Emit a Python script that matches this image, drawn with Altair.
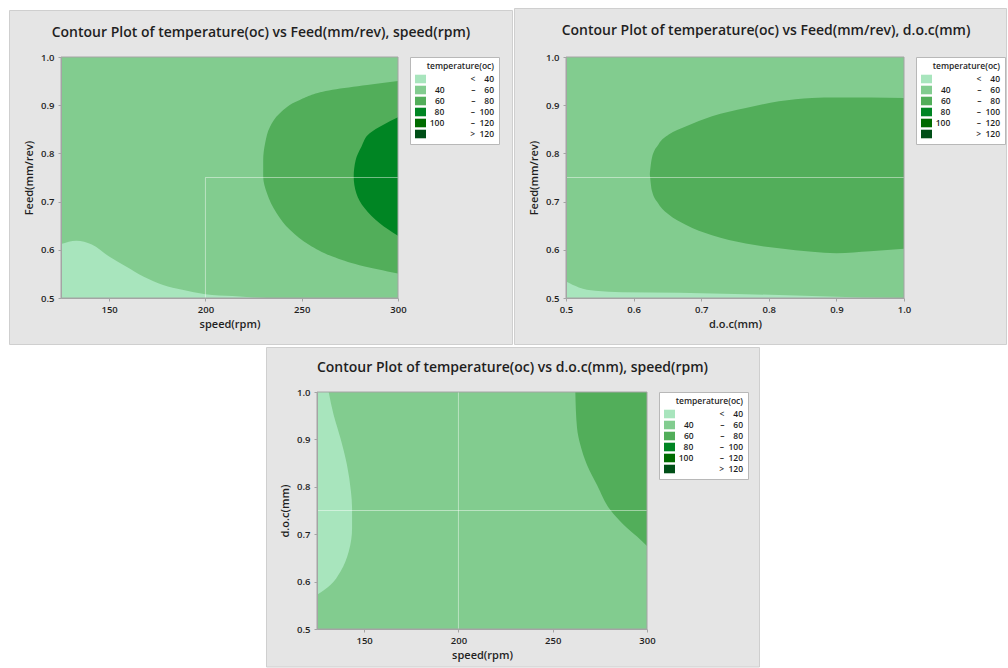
import altair as alt
import pandas as pd

FONT = "Open Sans"
INK = "#1f1f1f"
NB = "\u00a0"

# temperature(oc) classes
BAND_LO = ["", "40", "60", "80", "100", ""]
BAND_SIGN = ["<", "\u2013", "\u2013", "\u2013", "\u2013", ">"]
BAND_HI = ["40", "60", "80", "100", "120", "120"]
BAND_COLORS = ["#a8e5bd", "#82cc8f", "#52ae5a", "#008523", "#006b00", "#004f17"]


def band_label(lo, sign, hi):
    return lo + NB * 12 + sign + NB * (4 if len(hi) < 3 else 2) + hi


BANDS = [band_label(a, b, c) for a, b, c in zip(BAND_LO, BAND_SIGN, BAND_HI)]

FEED_DOMAIN = [0.5, 1.0]
FEED_TICKS = [0.5, 0.6, 0.7, 0.8, 0.9, 1.0]
SPEED_DOMAIN = [125, 300]
SPEED_TICKS = [150, 200, 250, 300]
DOC_DOMAIN = [0.5, 1.0]
DOC_TICKS = [0.5, 0.6, 0.7, 0.8, 0.9, 1.0]

# --- Feed vs speed ---
P1_LOW_X = [125, 133, 141, 150, 159, 168, 178, 188, 200, 214, 225, 232]
P1_LOW_Y = [0.612, 0.619, 0.611, 0.586, 0.565, 0.544, 0.527, 0.517, 0.508, 0.504, 0.501, 0.500]
P1_MID_Y = [0.551, 0.568, 0.586, 0.610, 0.641, 0.676, 0.717, 0.752, 0.786, 0.821, 0.855, 0.883, 0.911, 0.932, 0.942, 0.950]
P1_MID_X = [300, 280, 266, 254, 244, 237, 232, 230, 230, 231, 233.5, 238.5, 249, 266, 284, 300]
P1_HIGH_Y = [0.629, 0.655, 0.686, 0.717, 0.752, 0.786, 0.814, 0.842, 0.859, 0.875]
P1_HIGH_X = [300, 290.5, 282.7, 278.4, 277, 278, 281, 285.3, 292.2, 300]
P1_REF = {"x": [200, 200], "x2": [200, 300], "y": [0.5, 0.75], "y2": [0.75, 0.75]}

# --- Feed vs d.o.c ---
P2_LOW_X = [0.5, 0.519, 0.543, 0.583, 0.667, 0.766, 0.864, 0.938, 1.0]
P2_LOW_Y = [0.534, 0.522, 0.515, 0.512, 0.511, 0.508, 0.504, 0.501, 0.500]
P2_MID_X = [0.624, 0.627, 0.637, 0.652, 0.677, 0.716, 0.766, 0.815, 0.864, 0.9, 0.95, 1.0]
P2_MID_TOP = [0.757, 0.790, 0.819, 0.839, 0.856, 0.877, 0.894, 0.908, 0.915, 0.916, 0.916, 0.915]
P2_MID_BOT = [0.757, 0.723, 0.695, 0.673, 0.652, 0.630, 0.613, 0.603, 0.596, 0.593, 0.597, 0.602]
P2_REF = {"x": [0.5], "x2": [1.0], "y": [0.75], "y2": [0.75]}

# --- d.o.c vs speed ---
P3_LOW_Y = [0.572, 0.593, 0.621, 0.663, 0.713, 0.755, 0.790, 0.846, 0.903, 0.952, 1.0]
P3_LOW_X = [125, 132.1, 137.4, 141.8, 143.6, 143.6, 143, 140.9, 137.4, 133.8, 131.2]
P3_MID_Y = [0.675, 0.695, 0.720, 0.751, 0.804, 0.846, 0.889, 0.924, 1.0]
P3_MID_X = [300, 294.7, 287.6, 280.6, 273.5, 268.2, 264.6, 262.9, 262]
P3_REF = {"x": [200, 125], "x2": [200, 300], "y": [0.5, 0.75], "y2": [1.0, 0.75]}

ONE = pd.DataFrame({"k": [0]})

LEGEND = alt.Legend(
    title="temperature(oc)", orient="right", offset=12, padding=5,
    fillColor="white", strokeColor="#b8b8b8", cornerRadius=0,
    titleFont=FONT, titleFontSize=8.5, titleFontWeight=600, titleColor=INK,
    titleAnchor="end", titlePadding=3,
    labelFont=FONT, labelFontSize=8.5, labelFontWeight=600, labelColor=INK,
    labelAlign="right", labelOffset=68,
    symbolType="M-1,-0.78H1V0.78H-1Z", symbolSize=121,
    symbolStrokeWidth=0, symbolOpacity=1, rowPadding=1,
)


def pixel_rect(x0, x1, y0, y1, **mark):
    return alt.Chart(ONE).mark_rect(**mark).encode(
        x=alt.value(x0), x2=alt.value(x1), y=alt.value(y0), y2=alt.value(y1)
    )


def panel(title, xt, yt, xdom, xticks, xfmt, w, h, extent, box, title_pos,
          areas, ref):
    sx = alt.Scale(domain=xdom, nice=False, zero=False)
    sy = alt.Scale(domain=FEED_DOMAIN, nice=False, zero=False)
    axis_style = dict(
        zindex=1, grid=False, domainColor="#a4a4a4", tickColor="#a4a4a4",
        tickSize=3, labelFont=FONT, labelFontSize=9.5, labelFontWeight=600,
        labelColor=INK, labelFlush=False, labelOverlap=False,
        titleFont=FONT, titleFontSize=11, titleFontWeight=600, titleColor=INK,
    )
    ax = alt.Axis(values=xticks, format=xfmt, title=xt, labelPadding=3,
                  titlePadding=5, **axis_style)
    ay = alt.Axis(values=FEED_TICKS, format=".1f", title=yt, labelPadding=4,
                  titlePadding=6, **axis_style)

    def X(f):
        return alt.X(f, type="quantitative", scale=sx, axis=ax)

    def Y(f):
        return alt.Y(f, type="quantitative", scale=sy, axis=ay)

    color = alt.Color("band:N", scale=alt.Scale(domain=BANDS, range=BAND_COLORS),
                      legend=LEGEND)

    layers = [
        pixel_rect(*extent, fill="white"),
        pixel_rect(*box, fill="#e5e5e5", stroke="#cfcfcf", strokeWidth=1),
    ]
    bg = pd.DataFrame({"x0": [xdom[0]], "x1": [xdom[1]],
                       "y0": [FEED_DOMAIN[0]], "y1": [FEED_DOMAIN[1]],
                       "band": [BANDS[1]]})
    layers.append(alt.Chart(bg).mark_rect().encode(
        x=X("x0"), x2="x1", y=Y("y0"), y2="y1", color=color))

    for kind, band, cols in areas:
        df = pd.DataFrame(cols)
        df["band"] = BANDS[band]
        if kind == "v":  # region between a curve and a horizontal line / curve
            layers.append(alt.Chart(df).mark_area(interpolate="monotone").encode(
                x=X("a"), y=Y("b"), y2="c", color=color))
        else:  # region between a curve and a vertical line
            layers.append(alt.Chart(df).mark_area(
                orient="horizontal", interpolate="monotone").encode(
                y=Y("a"), x=X("b"), x2="c", color=color))

    layers.append(alt.Chart(pd.DataFrame(ref)).mark_rule(
        color="white", opacity=0.45, strokeWidth=1).encode(
        x=X("x"), x2="x2", y=Y("y"), y2="y2"))
    layers.append(pixel_rect(0, w, 0, h, fillOpacity=0, stroke="#a4a4a4",
                             strokeWidth=1))
    layers.append(alt.Chart(pd.DataFrame({"t": [title]})).mark_text(
        font=FONT, fontSize=14, fontWeight=600, color=INK, align="center",
        baseline="alphabetic").encode(
        text="t:N", x=alt.value(title_pos[0]), y=alt.value(title_pos[1])))
    return alt.layer(*layers).properties(width=w, height=h)


p1 = panel(
    "Contour Plot of temperature(oc) vs Feed(mm/rev), speed(rpm)",
    "speed(rpm)", "Feed(mm/rev)", SPEED_DOMAIN, SPEED_TICKS, "d", 337, 241,
    extent=(-52, 452, -49, 288), box=(-51.5, 451.5, -46.5, 287.5),
    title_pos=(200, -20.5),
    areas=[
        ("v", 0, {"a": P1_LOW_X, "b": P1_LOW_Y, "c": [FEED_DOMAIN[0]] * len(P1_LOW_X)}),
        ("h", 2, {"a": P1_MID_Y, "b": P1_MID_X, "c": [SPEED_DOMAIN[1]] * len(P1_MID_Y)}),
        ("h", 3, {"a": P1_HIGH_Y, "b": P1_HIGH_X, "c": [SPEED_DOMAIN[1]] * len(P1_HIGH_Y)}),
    ],
    ref=P1_REF,
)

p2 = panel(
    "Contour Plot of temperature(oc) vs Feed(mm/rev), d.o.c(mm)",
    "d.o.c(mm)", "Feed(mm/rev)", DOC_DOMAIN, DOC_TICKS, ".1f", 338, 241,
    extent=(-52, 441, -49, 288), box=(-51.5, 440.5, -48.5, 287.5),
    title_pos=(200, -22.5),
    areas=[
        ("v", 0, {"a": P2_LOW_X, "b": P2_LOW_Y, "c": [FEED_DOMAIN[0]] * len(P2_LOW_X)}),
        ("v", 2, {"a": P2_MID_X, "b": P2_MID_TOP, "c": P2_MID_BOT}),
    ],
    ref=P2_REF,
)

p3 = panel(
    "Contour Plot of temperature(oc) vs d.o.c(mm), speed(rpm)",
    "speed(rpm)", "d.o.c(mm)", SPEED_DOMAIN, SPEED_TICKS, "d", 330, 237,
    extent=(-51, 443, -45, 275), box=(-50.5, 442.5, -44.5, 275),
    title_pos=(195.5, -20),
    areas=[
        ("h", 0, {"a": P3_LOW_Y, "b": P3_LOW_X, "c": [SPEED_DOMAIN[0]] * len(P3_LOW_Y)}),
        ("h", 2, {"a": P3_MID_Y, "b": P3_MID_X, "c": [SPEED_DOMAIN[1]] * len(P3_MID_Y)}),
    ],
    ref=P3_REF,
)

# blank cell that pushes the lower panel towards the middle
SPACER_W = 205
spacer = alt.Chart(ONE).mark_rect(opacity=0).encode(
    x=alt.value(0), x2=alt.value(SPACER_W), y=alt.value(0), y2=alt.value(1)
).properties(width=SPACER_W, height=1)

top = (alt.hconcat(p1, p2, spacing=1)
       .resolve_scale(color="independent").resolve_legend(color="independent"))
bottom = (alt.hconcat(spacer, p3, spacing=0)
          .resolve_scale(color="independent").resolve_legend(color="independent"))
chart = (
    alt.vconcat(top, bottom, spacing=2)
    .resolve_scale(color="independent")
    .resolve_legend(color="independent")
    .properties(padding={"left": 9, "top": 8, "right": 0, "bottom": 0},
                background="white")
    .configure_view(stroke=None)
)

chart.save("out.html", embed_options={"renderer": "svg", "actions": False})
